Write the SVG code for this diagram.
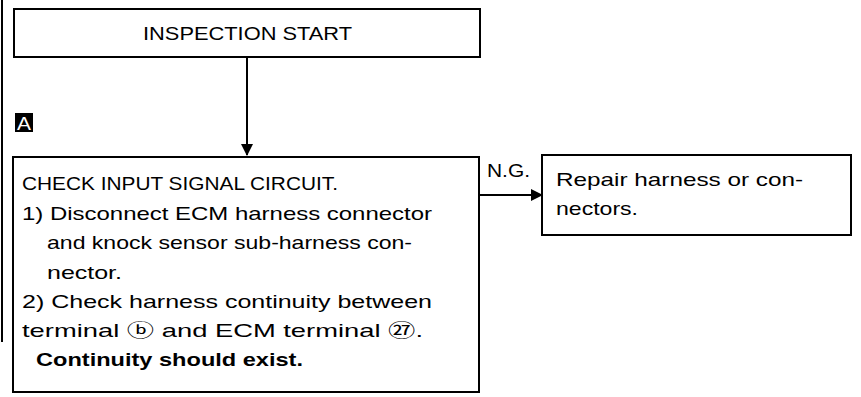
<svg xmlns="http://www.w3.org/2000/svg" width="861" height="397" viewBox="0 0 861 397">
<style>
  .box { fill: #fff; stroke: #000; stroke-width: 2; }
  .t { font-family: "Liberation Sans", "Noto Sans CJK JP", sans-serif; font-size: 18.5px; fill: #000; }
  .b { font-weight: bold; }
  .w { fill: #fff; font-size: 18px; }
  .line { stroke: #000; stroke-width: 2; fill: none; }
</style>
<defs>
  <marker id="ah" markerWidth="12" markerHeight="12" refX="11" refY="6" orient="auto" markerUnits="userSpaceOnUse">
    <path d="M0,0 L12,6 L0,12 Z" fill="#000"/>
  </marker>
</defs>
<rect width="861" height="397" fill="#fff"/>
<line class="line" x1="2" y1="0" x2="2" y2="342"/>
<g id="start">
  <rect class="box" x="14" y="9" width="466" height="48"/>
  <text class="t" x="143" y="40" textLength="209" lengthAdjust="spacingAndGlyphs">INSPECTION START</text>
</g>
<g id="marker-a">
  <rect x="15" y="113" width="18" height="19" fill="#000"/>
  <text class="t w" x="17" y="130" textLength="14" lengthAdjust="spacingAndGlyphs">A</text>
</g>
<g id="check">
  <rect class="box" x="13" y="157" width="466" height="235"/>
  <text class="t" x="22" y="190" textLength="316" lengthAdjust="spacingAndGlyphs">CHECK INPUT SIGNAL CIRCUIT.</text>
  <text class="t" x="22" y="220" textLength="410" lengthAdjust="spacingAndGlyphs">1) Disconnect ECM harness connector</text>
  <text class="t" x="47" y="249" textLength="365" lengthAdjust="spacingAndGlyphs">and knock sensor sub-harness con-</text>
  <text class="t" x="47" y="279" textLength="75" lengthAdjust="spacingAndGlyphs">nector.</text>
  <text class="t" x="22" y="308" textLength="410" lengthAdjust="spacingAndGlyphs">2) Check harness continuity between</text>
  <text class="t" x="22" y="337" textLength="401" lengthAdjust="spacingAndGlyphs">terminal ⓑ and ECM terminal ㉗.</text>
  <text class="t b" x="36" y="366" textLength="267" lengthAdjust="spacingAndGlyphs">Continuity should exist.</text>
</g>
<g id="repair">
  <rect class="box" x="542" y="155" width="309" height="80"/>
  <text class="t" x="556" y="186" textLength="247" lengthAdjust="spacingAndGlyphs">Repair harness or con-</text>
  <text class="t" x="556" y="215" textLength="82" lengthAdjust="spacingAndGlyphs">nectors.</text>
</g>
<g id="connectors">
  <line class="line" x1="247" y1="57" x2="247" y2="155" marker-end="url(#ah)"/>
  <line class="line" x1="479" y1="195" x2="542" y2="195" marker-end="url(#ah)"/>
  <text class="t" x="487" y="177" textLength="43" lengthAdjust="spacingAndGlyphs">N.G.</text>
</g>
</svg>
